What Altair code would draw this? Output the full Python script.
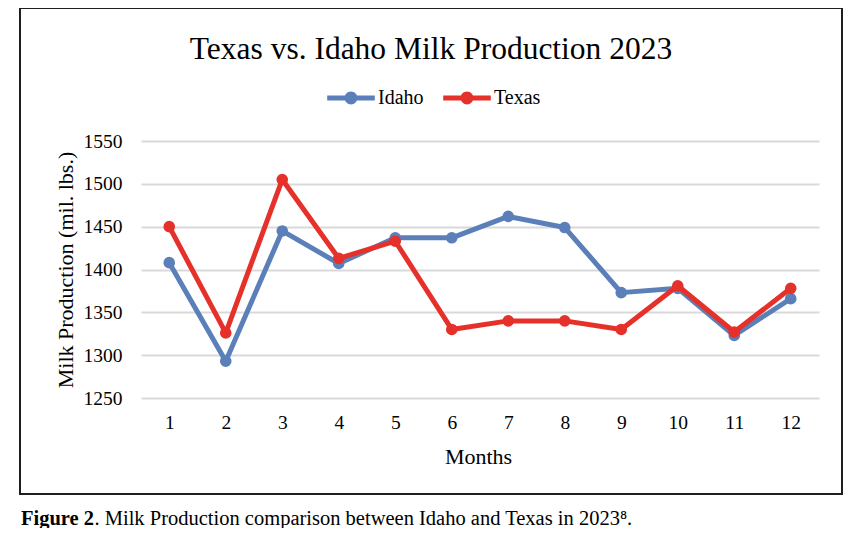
import altair as alt
import pandas as pd

months = [1, 2, 3, 4, 5, 6, 7, 8, 9, 10, 11, 12]
idaho = [1408, 1293, 1445, 1407, 1437, 1437, 1462, 1449, 1373, 1378, 1323, 1366]
texas = [1450, 1326, 1505, 1413, 1433, 1330, 1340, 1340, 1330, 1381, 1327, 1378]
series = ["Idaho", "Texas"]
colors = ["#5B7FB9", "#E5312A"]
y_ticks = [1250, 1300, 1350, 1400, 1450, 1500, 1550]

title_text = "Texas vs. Idaho Milk Production 2023"
x_title = "Months"
y_title = "Milk Production (mil. lbs.)"
caption_bold = "Figure 2"
caption_rest = ". Milk Production comparison between Idaho and Texas in 2023\u2078."

df = pd.DataFrame(
    {
        "Month": months * 2,
        "Value": idaho + texas,
        "State": ["Idaho"] * len(months) + ["Texas"] * len(months),
    }
)

FONT = "Liberation Serif"
W, H = 678, 257

color_scale = alt.Scale(domain=series, range=colors)
legend_path = (
    "M-1.7,-0.17 L1.7,-0.17 L1.7,0.17 L-1.7,0.17 Z "
    "M-0.46,0 A0.46,0.46 0 1,1 0.46,0 A0.46,0.46 0 1,1 -0.46,0 Z"
)
legend = alt.Legend(
    title=None,
    orient="none",
    direction="horizontal",
    legendX=196,
    legendY=-57,
    symbolType=legend_path,
    symbolSize=784,
    symbolStrokeWidth=0,
    labelOffset=13,
    columnPadding=19,
    padding=0,
    labelFont=FONT,
    labelFontSize=20,
    labelColor="#000000",
)

x_enc = alt.X(
    "Month:O",
    title=x_title,
    axis=alt.Axis(
        labelAngle=0,
        labelFont=FONT,
        labelFontSize=19.5,
        labelColor="#000000",
        labelPadding=15,
        domain=False,
        ticks=False,
        grid=False,
        titleFont=FONT,
        titleFontSize=22,
        titleFontWeight="normal",
        titleColor="#000000",
        titleBaseline="alphabetic",
        titleY=65,
        titleX=337,
    ),
)
y_enc = alt.Y(
    "Value:Q",
    title=y_title,
    scale=alt.Scale(domain=[1250, 1550], nice=False, zero=False),
    axis=alt.Axis(
        values=y_ticks,
        format="d",
        labelFont=FONT,
        labelFontSize=19.5,
        labelColor="#000000",
        labelPadding=19,
        domain=False,
        ticks=False,
        grid=True,
        gridColor="#D9D9D9",
        gridWidth=2,
        titleFont=FONT,
        titleFontSize=22,
        titleFontWeight="normal",
        titleColor="#000000",
        titleAngle=-90,
        titleAlign="center",
        titleBaseline="middle",
        titleX=-76,
        titleY=128.5,
    ),
)

layers = []
for i, s in enumerate(series):
    base = alt.Chart(df).transform_filter(alt.datum.State == s)
    line = base.mark_line(strokeWidth=5, strokeJoin="round").encode(
        x=x_enc if i == 0 else alt.X("Month:O"),
        y=y_enc if i == 0 else alt.Y("Value:Q"),
        color=alt.value(colors[i]),
    )
    pts = base.mark_circle(size=135, opacity=1).encode(
        x=alt.X("Month:O"),
        y=alt.Y("Value:Q"),
        color=alt.Color("State:N", scale=color_scale, legend=legend),
    )
    layers += [line, pts]

box_df = pd.DataFrame({"k": [0]})
box = alt.Chart(box_df).mark_rect(
    filled=False, stroke="#1F1F1F", strokeWidth=2, clip=False
).encode(
    x=alt.value(-121), x2=alt.value(701), y=alt.value(-133), y2=alt.value(353)
)

cap_df = pd.DataFrame({"bold": [caption_bold], "rest": [caption_rest]})
cap1 = alt.Chart(cap_df).mark_text(
    font=FONT, fontSize=20.5, fontWeight="bold", align="left",
    baseline="alphabetic", color="#000000", clip=False
).encode(text="bold:N", x=alt.value(-120), y=alt.value(384))
cap2 = alt.Chart(cap_df).mark_text(
    font=FONT, fontSize=20.5, fontWeight="normal", align="left",
    baseline="alphabetic", color="#000000", clip=False
).encode(text="rest:N", x=alt.value(-46.5), y=alt.value(384))

chart = (
    alt.layer(box, *layers, cap1, cap2)
    .properties(
        width=W,
        height=H,
        title=alt.TitleParams(
            text=title_text,
            font=FONT,
            fontSize=31.5,
            fontWeight="normal",
            color="#000000",
            anchor="middle",
            baseline="alphabetic",
            offset=-83,
            dx=-49,
        ),
        padding={"left": 133, "top": 133, "right": 30, "bottom": 130},
        autosize=alt.AutoSizeParams(type="none"),
        background="white",
    )
    .configure_view(stroke=None)
)

chart.save("out.html", embed_options={"renderer": "svg", "actions": False})
